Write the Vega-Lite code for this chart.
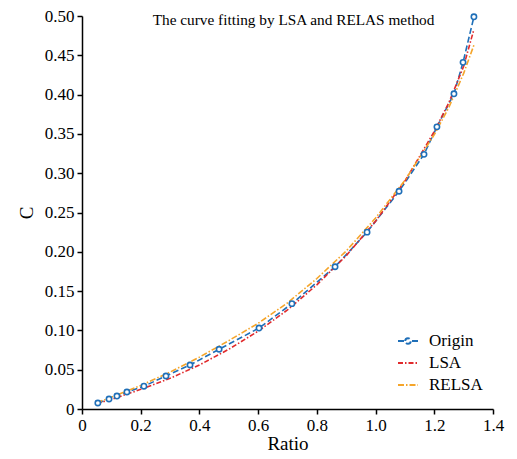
{
  "$schema": "https://vega.github.io/schema/vega-lite/v6.json",
  "width": 411,
  "height": 393,
  "autosize": {"type": "none"},
  "padding": {"left": 82, "top": 16, "right": 24, "bottom": 50},
  "background": "white",
  "title": {
    "text": "The curve fitting by LSA and RELAS method",
    "font": "Liberation Serif",
    "fontSize": 15.3,
    "fontWeight": "normal",
    "color": "black",
    "anchor": "middle",
    "frame": "group",
    "offset": -21,
    "dx": 6
  },
  "config": {
    "font": "Liberation Serif",
    "view": {"stroke": null},
    "axis": {
      "labelFont": "Liberation Serif",
      "titleFont": "Liberation Serif",
      "labelFontSize": 17,
      "titleFontSize": 19,
      "titleFontWeight": "normal",
      "labelColor": "black",
      "titleColor": "black",
      "domainColor": "black",
      "tickColor": "black",
      "domainWidth": 1.5,
      "tickWidth": 1.5,
      "tickSize": 5,
      "grid": false
    },
    "legend": {
      "labelFont": "Liberation Serif",
      "labelFontSize": 17,
      "labelColor": "black"
    }
  },
  "data": {
    "values": [
      {"series": "Origin", "Ratio": 0.054, "C": 0.0076},
      {"series": "Origin", "Ratio": 0.092, "C": 0.0127},
      {"series": "Origin", "Ratio": 0.119, "C": 0.0165},
      {"series": "Origin", "Ratio": 0.153, "C": 0.0216},
      {"series": "Origin", "Ratio": 0.211, "C": 0.029},
      {"series": "Origin", "Ratio": 0.286, "C": 0.042},
      {"series": "Origin", "Ratio": 0.368, "C": 0.056},
      {"series": "Origin", "Ratio": 0.467, "C": 0.076},
      {"series": "Origin", "Ratio": 0.603, "C": 0.103},
      {"series": "Origin", "Ratio": 0.715, "C": 0.134},
      {"series": "Origin", "Ratio": 0.862, "C": 0.181},
      {"series": "Origin", "Ratio": 0.971, "C": 0.225},
      {"series": "Origin", "Ratio": 1.08, "C": 0.277},
      {"series": "Origin", "Ratio": 1.165, "C": 0.324},
      {"series": "Origin", "Ratio": 1.209, "C": 0.359},
      {"series": "Origin", "Ratio": 1.267, "C": 0.401},
      {"series": "Origin", "Ratio": 1.298, "C": 0.441},
      {"series": "Origin", "Ratio": 1.335, "C": 0.499},
      {"series": "LSA", "Ratio": 0.05, "C": 0.007},
      {"series": "LSA", "Ratio": 0.1, "C": 0.012},
      {"series": "LSA", "Ratio": 0.2, "C": 0.025},
      {"series": "LSA", "Ratio": 0.3, "C": 0.039},
      {"series": "LSA", "Ratio": 0.4, "C": 0.056},
      {"series": "LSA", "Ratio": 0.5, "C": 0.076},
      {"series": "LSA", "Ratio": 0.6, "C": 0.099},
      {"series": "LSA", "Ratio": 0.7, "C": 0.126},
      {"series": "LSA", "Ratio": 0.8, "C": 0.158},
      {"series": "LSA", "Ratio": 0.9, "C": 0.195},
      {"series": "LSA", "Ratio": 1.0, "C": 0.239},
      {"series": "LSA", "Ratio": 1.1, "C": 0.29},
      {"series": "LSA", "Ratio": 1.2, "C": 0.353},
      {"series": "LSA", "Ratio": 1.25, "C": 0.39},
      {"series": "LSA", "Ratio": 1.3, "C": 0.436},
      {"series": "LSA", "Ratio": 1.335, "C": 0.483},
      {"series": "RELSA", "Ratio": 0.05, "C": 0.008},
      {"series": "RELSA", "Ratio": 0.1, "C": 0.015},
      {"series": "RELSA", "Ratio": 0.2, "C": 0.03},
      {"series": "RELSA", "Ratio": 0.3, "C": 0.047},
      {"series": "RELSA", "Ratio": 0.4, "C": 0.066},
      {"series": "RELSA", "Ratio": 0.5, "C": 0.087},
      {"series": "RELSA", "Ratio": 0.6, "C": 0.109},
      {"series": "RELSA", "Ratio": 0.7, "C": 0.135},
      {"series": "RELSA", "Ratio": 0.8, "C": 0.166},
      {"series": "RELSA", "Ratio": 0.9, "C": 0.201},
      {"series": "RELSA", "Ratio": 1.0, "C": 0.243},
      {"series": "RELSA", "Ratio": 1.1, "C": 0.291},
      {"series": "RELSA", "Ratio": 1.2, "C": 0.349},
      {"series": "RELSA", "Ratio": 1.25, "C": 0.384},
      {"series": "RELSA", "Ratio": 1.3, "C": 0.427},
      {"series": "RELSA", "Ratio": 1.335, "C": 0.463}
    ]
  },
  "encoding": {
    "x": {
      "field": "Ratio",
      "type": "quantitative",
      "scale": {"domain": [0, 1.4], "nice": false, "zero": false},
      "axis": {
        "title": "Ratio",
        "labelFont": "Liberation Serif",
        "titleFont": "Liberation Serif",
        "values": [0, 0.2, 0.4, 0.6, 0.8, 1.0, 1.2, 1.4],
        "labelExpr": "datum.value === 0 ? '0' : format(datum.value, '.1f')",
        "labelPadding": 3,
        "titlePadding": 1,
        "labelFlush": false
      }
    },
    "y": {
      "field": "C",
      "type": "quantitative",
      "scale": {"domain": [0, 0.5], "nice": false},
      "axis": {
        "title": "C",
        "labelFont": "Liberation Serif",
        "titleFont": "Liberation Serif",
        "values": [0, 0.05, 0.1, 0.15, 0.2, 0.25, 0.3, 0.35, 0.4, 0.45, 0.5],
        "labelExpr": "datum.value === 0 ? '0' : format(datum.value, '.2f')",
        "labelPadding": 3,
        "titlePadding": 8,
        "labelFlush": false
      }
    }
  },
  "layer": [
    {
      "mark": {"type": "line", "strokeWidth": 1.6},
      "encoding": {
        "color": {
          "field": "series",
          "type": "nominal",
          "scale": {"domain": ["Origin", "LSA", "RELSA"], "range": ["#1f6fb8", "#e02a2c", "#f5a52a"]},
          "legend": {
            "title": null,
            "orient": "none",
            "legendX": 315,
            "legendY": 314,
            "symbolType": "stroke",
            "symbolSize": 400,
            "symbolStrokeWidth": 2,
            "rowPadding": 3,
            "labelOffset": 10,
            "labelFont": "Liberation Serif",
            "encode": {
              "symbols": {
                "update": {
                  "shape": {"signal": "datum.value === 'Origin' ? 'M-1,0L-0.4,0M0.4,0L1,0M-0.28,0A0.28,0.28,0,1,1,0.28,0A0.28,0.28,0,1,1,-0.28,0' : 'stroke'"},
                  "strokeDash": {"signal": "datum.value === 'Origin' ? [1,0] : [3,1.5,1,1.5]"}
                }
              }
            }
          }
        },
        "strokeDash": {
          "field": "series",
          "type": "nominal",
          "scale": {"domain": ["Origin", "LSA", "RELSA"], "range": [[6, 3], [5, 2, 1.5, 2], [6, 2, 1.5, 2]]},
          "legend": null
        }
      }
    },
    {
      "transform": [{"filter": "datum.series === 'Origin'"}],
      "mark": {"type": "point", "shape": "circle", "filled": false, "fill": "white", "size": 28, "strokeWidth": 1.6, "opacity": 1},
      "encoding": {
        "color": {"field": "series", "type": "nominal", "legend": null}
      }
    }
  ]
}
